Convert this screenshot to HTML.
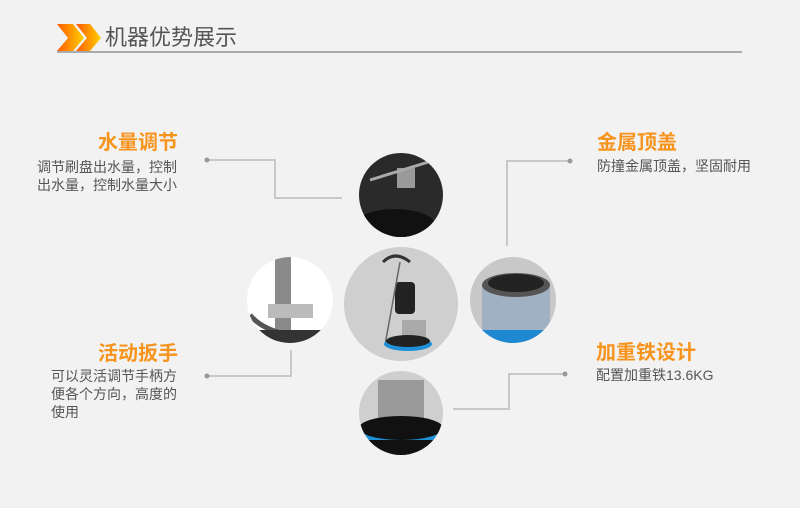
<!DOCTYPE html>
<html><head><meta charset="utf-8"><style>
body{margin:0;width:800px;height:508px;background:#f2f2f2;position:relative;overflow:hidden;font-family:"Liberation Sans","Noto Sans CJK SC",sans-serif}
.t{position:absolute;color:#f7941d;font-size:20px;font-weight:bold;line-height:22px;white-space:nowrap}
.b{position:absolute;color:#555;font-size:14px;line-height:18px;white-space:nowrap}
.h{position:absolute;left:105px;top:25px;font-size:22px;color:#555;line-height:26px}
</style></head><body>
<svg width="800" height="508" style="position:absolute;left:0;top:0">
<defs>
<linearGradient id="g" x1="0" x2="1"><stop offset="0" stop-color="#ff5a00"/><stop offset="1" stop-color="#ffd000"/></linearGradient>
<clipPath id="c1"><circle cx="401" cy="195" r="42"/></clipPath>
<clipPath id="c2"><circle cx="290" cy="300" r="43"/></clipPath>
<clipPath id="c4"><circle cx="513" cy="300" r="43"/></clipPath>
<clipPath id="c5"><circle cx="401" cy="413" r="42"/></clipPath>
</defs>
<polygon points="57,24 73,24 84,38 73,51 57,51 68,38" fill="url(#g)"/>
<polygon points="76,24 90,24 101,38 90,51 76,51 87,38" fill="url(#g)"/>
<rect x="57" y="51" width="685" height="2" fill="#aaa"/>
<g stroke="#c8c8c8" stroke-width="2" fill="none">
<polyline points="207,160 275,160 275,198 342,198"/>
<polyline points="507,246 507,161 570,161"/>
<polyline points="291,350 291,376 207,376"/>
<polyline points="453,409 509,409 509,374 565,374"/>
</g>
<g fill="#999"><circle cx="207" cy="160" r="2.5"/><circle cx="570" cy="161" r="2.5"/><circle cx="207" cy="376" r="2.5"/><circle cx="565" cy="374" r="2.5"/></g>
<g clip-path="url(#c1)"><rect x="355" y="150" width="95" height="95" fill="#2a2a2a"/><ellipse cx="395" cy="225" rx="40" ry="16" fill="#111"/><rect x="397" y="168" width="18" height="20" fill="#9a9a9a"/><line x1="370" y1="180" x2="435" y2="160" stroke="#aaa" stroke-width="3"/></g>
<g clip-path="url(#c2)"><rect x="245" y="255" width="95" height="95" fill="#fff"/><rect x="275" y="255" width="16" height="80" fill="#8a8a8a"/><rect x="268" y="304" width="45" height="14" fill="#bbb"/><path d="M250,315 Q262,330 290,335" stroke="#555" stroke-width="5" fill="none"/><rect x="245" y="330" width="95" height="20" fill="#333"/></g>
<circle cx="401" cy="304" r="57" fill="#cfcfcf"/>
<rect x="395" y="282" width="20" height="32" rx="4" fill="#222"/>
<line x1="400" y1="262" x2="385" y2="345" stroke="#666" stroke-width="1.5"/>
<path d="M383,262 Q395,250 410,262" stroke="#333" stroke-width="3" fill="none"/>
<rect x="402" y="320" width="24" height="18" fill="#aaa"/>
<ellipse cx="408" cy="344" rx="24" ry="7" fill="#1f8fd6"/><ellipse cx="408" cy="341" rx="22" ry="6" fill="#222"/>
<g clip-path="url(#c4)"><rect x="468" y="255" width="95" height="95" fill="#c8c8c8"/><rect x="482" y="285" width="68" height="55" fill="#9fb1c2"/><ellipse cx="516" cy="285" rx="34" ry="12" fill="#555"/><ellipse cx="516" cy="283" rx="28" ry="9" fill="#222"/><rect x="468" y="330" width="95" height="20" fill="#1e88d0"/></g>
<g clip-path="url(#c5)"><rect x="355" y="368" width="95" height="95" fill="#cfcfcf"/><rect x="378" y="380" width="46" height="40" fill="#9a9a9a"/><ellipse cx="401" cy="432" rx="44" ry="14" fill="#1f8fd6"/><ellipse cx="401" cy="428" rx="42" ry="12" fill="#111"/><rect x="357" y="440" width="90" height="25" fill="#111"/></g>
</svg>
<div class="h">机器优势展示</div>
<div class="t" style="right:622px;top:132px">水量调节</div>
<div class="b" style="left:37px;top:158px">调节刷盘出水量，控制<br>出水量，控制水量大小</div>
<div class="t" style="left:597px;top:132px">金属顶盖</div>
<div class="b" style="left:597px;top:157px">防撞金属顶盖，坚固耐用</div>
<div class="t" style="right:622px;top:343px">活动扳手</div>
<div class="b" style="left:51px;top:367px">可以灵活调节手柄方<br>便各个方向，高度的<br>使用</div>
<div class="t" style="left:596px;top:342px">加重铁设计</div>
<div class="b" style="left:596px;top:366px">配置加重铁13.6KG</div>
</body></html>
